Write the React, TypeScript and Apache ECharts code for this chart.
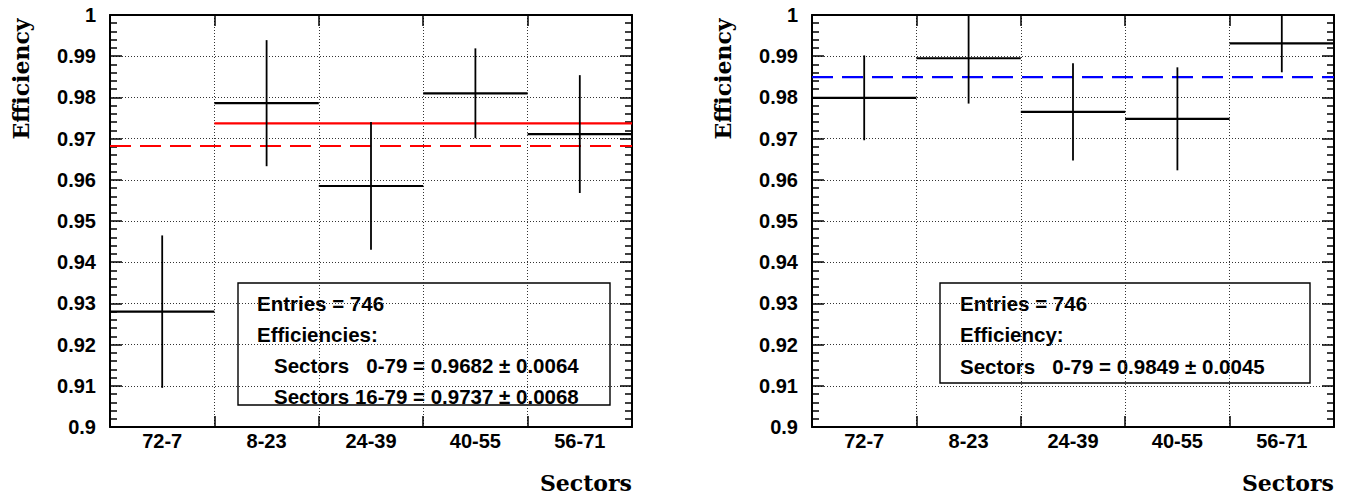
import React, { useEffect, useRef } from "react";
import * as echarts from "echarts";

const categories = ["72-7", "8-23", "24-39", "40-55", "56-71"];
const leftValues = [0.928, 0.9786, 0.9585, 0.981, 0.9711];
const leftErrors = [0.0185, 0.0153, 0.0155, 0.0109, 0.0143];
const rightValues = [0.9799, 0.9895, 0.9765, 0.9748, 0.9931];
const rightErrors = [0.0103, 0.011, 0.0118, 0.0125, 0.007];
const leftFitAll = 0.9682;
const leftFitSub = 0.9737;
const rightFitAll = 0.9849;
const leftLegend = [
  "Entries = 746",
  "Efficiencies:",
  "Sectors   0-79 = 0.9682 \u00b1 0.0064",
  "Sectors 16-79 = 0.9737 \u00b1 0.0068",
];
const rightLegend = [
  "Entries = 746",
  "Efficiency:",
  "Sectors   0-79 = 0.9849 \u00b1 0.0045",
];

const SANS = "Liberation Sans";
const SERIF = "DejaVu Serif";

function renderErr(params: any, api: any) {
  const i = api.value(0);
  const v = api.value(1);
  const e = api.value(2);
  const cs = params.coordSys;
  const clampY = (y: number) => Math.max(cs.y, Math.min(cs.y + cs.height, y));
  const a = api.coord([i, v]);
  const b = api.coord([i + 1, v]);
  const c = api.coord([i + 0.5, v + e]);
  const d = api.coord([i + 0.5, v - e]);
  return {
    type: "group",
    children: [
      {
        type: "line",
        shape: { x1: a[0], y1: a[1], x2: b[0], y2: b[1] },
        style: { stroke: "#000", lineWidth: 2.2 },
      },
      {
        type: "line",
        shape: { x1: c[0], y1: clampY(c[1]), x2: d[0], y2: clampY(d[1]) },
        style: { stroke: "#000", lineWidth: 1.8 },
      },
    ],
  };
}

function valueX(gridIndex: number, position: string) {
  return {
    type: "value",
    gridIndex,
    position,
    min: 0,
    max: 5,
    interval: 1,
    axisLine: { show: true, onZero: false, lineStyle: { color: "#000", width: 2 } },
    axisTick: { show: true, inside: true, length: 11, lineStyle: { color: "#000", width: 1.5 } },
    axisLabel: { show: false },
    splitLine: {
      show: position === "bottom",
      lineStyle: { type: [1, 2], color: "#333", width: 1 },
    },
  };
}

function catX(gridIndex: number) {
  return {
    type: "category",
    gridIndex,
    position: "bottom",
    data: categories,
    axisLine: { show: false },
    axisTick: { show: false },
    splitLine: { show: false },
    axisLabel: {
      margin: 4,
      fontFamily: SANS,
      fontWeight: "bold",
      fontSize: 20,
      color: "#000",
    },
  };
}

function valueY(gridIndex: number, position: string) {
  const isLeft = position === "left";
  return {
    type: "value",
    gridIndex,
    position,
    min: 0.9,
    max: 1.0,
    interval: 0.01,
    axisLine: { show: true, onZero: false, lineStyle: { color: "#000", width: 2 } },
    axisTick: { show: true, inside: true, length: 12, lineStyle: { color: "#000", width: 1.5 } },
    minorTick: { show: true, splitNumber: 5, length: 7, lineStyle: { color: "#000", width: 1.5 } },
    axisLabel: {
      show: isLeft,
      margin: 14,
      fontFamily: SANS,
      fontWeight: "bold",
      fontSize: 20,
      color: "#000",
      formatter: (v: number) => String(Number(v.toFixed(2))),
    },
    splitLine: {
      show: isLeft,
      lineStyle: { type: [1, 2], color: "#333", width: 1 },
    },
  };
}

function legendGraphic(x: number, y: number, w: number, h: number, lines: string[], xs: number[], ys: number[]) {
  return {
    type: "group",
    z: 100,
    children: [
      {
        type: "rect",
        shape: { x, y, width: w, height: h },
        style: { fill: "#fff", stroke: "#000", lineWidth: 1.4 },
      },
      ...lines.map((t, k) => ({
        type: "text",
        x: xs[k],
        y: ys[k],
        style: {
          text: t,
          fontFamily: SANS,
          fontWeight: "bold",
          fontSize: 20.5,
          fill: "#000",
          align: "left",
          verticalAlign: "middle",
        },
      })),
    ],
  };
}

function axisTitle(text: string, x: number, y: number, rotated: boolean) {
  return {
    type: "text",
    x,
    y,
    rotation: rotated ? Math.PI / 2 : 0,
    style: {
      text,
      fontFamily: SERIF,
      fontWeight: "bold",
      fontSize: 22,
      fill: "#000",
      align: rotated ? "center" : "right",
      verticalAlign: "middle",
    },
  };
}

function lineSeries(xi: number, yi: number, v: number, from: number, color: string, dashed: boolean) {
  return {
    type: "line",
    xAxisIndex: xi,
    yAxisIndex: yi,
    data: [
      [from, v],
      [5, v],
    ],
    symbol: "none",
    silent: true,
    lineStyle: { color, width: 2.2, type: dashed ? [21, 9] : "solid" },
    z: 3,
  };
}

export default function App() {
  const ref = useRef<HTMLDivElement>(null);
  useEffect(() => {
    if (!ref.current) return;
    const chart = echarts.init(ref.current, undefined, { renderer: "svg" });
    const option: any = {
      animation: false,
      backgroundColor: "#fff",
      grid: [
        { left: 110, top: 15, width: 522, height: 412 },
        { left: 812, top: 15, width: 522, height: 412 },
      ],
      xAxis: [
        valueX(0, "bottom"),
        valueX(0, "top"),
        catX(0),
        valueX(1, "bottom"),
        valueX(1, "top"),
        catX(1),
      ],
      yAxis: [valueY(0, "left"), valueY(0, "right"), valueY(1, "left"), valueY(1, "right")],
      series: [
        {
          type: "custom",
          xAxisIndex: 0,
          yAxisIndex: 0,
          renderItem: renderErr,
          encode: { x: 0, y: 1 },
          data: categories.map((_, i) => [i, leftValues[i], leftErrors[i]]),
          z: 4,
        },
        lineSeries(0, 0, leftFitSub, 1, "#ff0000", false),
        lineSeries(0, 0, leftFitAll, 0, "#ff0000", true),
        {
          type: "custom",
          xAxisIndex: 3,
          yAxisIndex: 2,
          renderItem: renderErr,
          encode: { x: 0, y: 1 },
          data: categories.map((_, i) => [i, rightValues[i], rightErrors[i]]),
          z: 4,
        },
        lineSeries(3, 2, rightFitAll, 0, "#0000ff", true),
      ],
      graphic: [
        legendGraphic(238, 283, 372, 122, leftLegend, [257, 257, 274, 274], [303, 334, 365, 396]),
        legendGraphic(940, 283, 370, 100, rightLegend, [960, 960, 960], [303, 334, 366]),
        axisTitle("Efficiency", 21, 79, true),
        axisTitle("Sectors", 632, 483, false),
        axisTitle("Efficiency", 723, 79, true),
        axisTitle("Sectors", 1334, 483, false),
      ],
    };
    chart.setOption(option);
    return () => chart.dispose();
  }, []);
  return (
    <div
      ref={ref}
      style={{ position: "absolute", left: 0, top: 0, width: 1346, height: 499 }}
    />
  );
}
